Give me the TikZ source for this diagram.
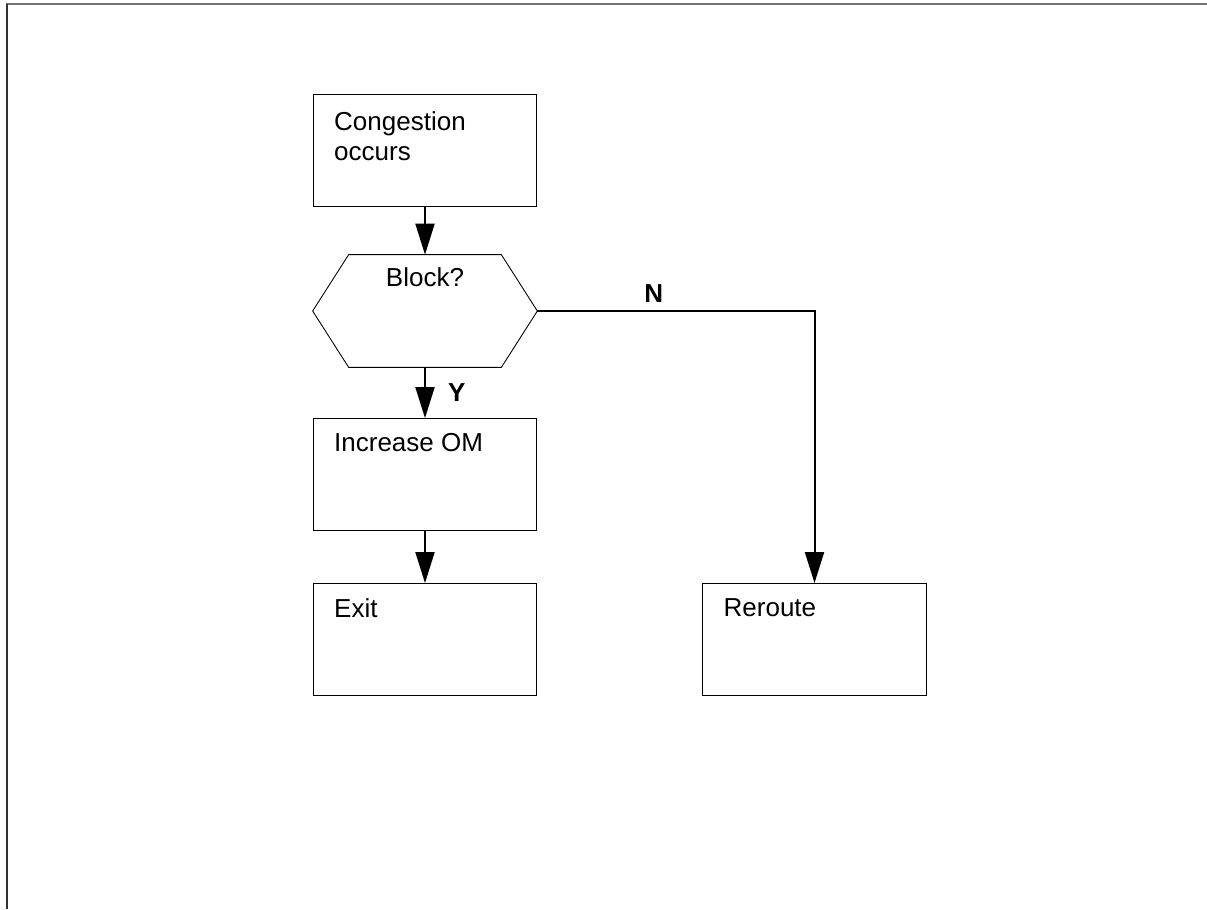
\documentclass[tikz,border=0pt]{standalone}
\usepackage{fontspec}
\setmainfont{Liberation Sans}
\usetikzlibrary{arrows.meta, positioning, calc}

\begin{document}
\begin{tikzpicture}[
  flowbox/.style={rectangle, draw=black, line width=0.5pt, minimum width=4.47cm,
    minimum height=2.24cm, inner sep=0pt},
  decision/.style={rectangle, minimum width=4.48cm, minimum height=2.24cm, inner sep=0pt},
  boxtext/.style={anchor=north west, align=left, inner sep=0pt, xshift=0.42cm, yshift=-0.3cm,
    font=\fontsize{14.8}{17}\selectfont},
  flag/.style={inner sep=0pt, font=\bfseries\fontsize{14.8}{17}\selectfont},
  hexline/.style={draw=black, line width=0.5pt},
  arr/.style={-{Triangle[length=0.62cm, width=0.38cm]}, line width=0.04cm}
]
  \useasboundingbox (0,0) rectangle (24.14,-18.18);

  % page frame
  \draw[black!55, line width=0.04cm] (0.12,-0.08) -- (24.14,-0.08);
  \draw[black!80, line width=0.035cm] (0.14,-0.08) -- (0.14,-18.18);

  \node[flowbox] (cong) at (8.5,  -3.0)
    [label={[boxtext, yshift=-0.06cm]north west:Congestion\\occurs}] {};
  \node[decision] (blk) at (8.5,  -6.22)
    [label={[anchor=north, inner sep=0pt, yshift=-0.26cm, font=\fontsize{14.8}{17}\selectfont]north:Block?}] {};
  \node[flowbox] (inc)  at (8.5,  -9.49) [label={[boxtext]north west:Increase OM}] {};
  \node[flowbox] (ext)  at (8.5,  -12.79) [label={[boxtext]north west:Exit}] {};
  \node[flowbox] (rer)  at (16.29, -12.79) [label={[boxtext]north west:Reroute}] {};

  \draw[hexline] ($(blk.north west)+(0.72,0)$) -- ($(blk.north east)+(-0.72,0)$) -- (blk.east)
    -- ($(blk.south east)+(-0.72,0)$) -- ($(blk.south west)+(0.72,0)$) -- (blk.west) -- cycle;

  \draw[arr] (cong) -- (blk);
  \draw[arr] (blk)  -- node[flag, right=0.44cm] {Y} (inc);
  \draw[arr] (inc)  -- (ext);
  \draw[arr] (blk.east) -| node[flag, pos=0.21, above=0.16cm] {N} (rer.north);
\end{tikzpicture}
\end{document}
